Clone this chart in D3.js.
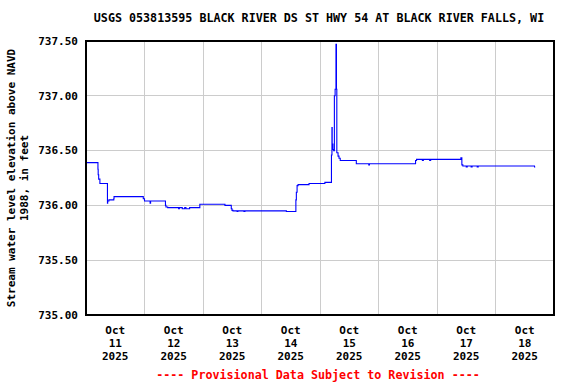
<!DOCTYPE html>
<html>
<head>
<meta charset="utf-8">
<script src="https://cdn.jsdelivr.net/npm/d3@7"></script>
<style>
html,body{margin:0;padding:0;background:#fff;}
text{font-family:"DejaVu Sans Mono","Liberation Mono",monospace;font-weight:bold;font-size:11px;}
</style>
</head>
<body>
<svg id="chart" width="576" height="384"></svg>
<script>
const title = "USGS 053813595 BLACK RIVER DS ST HWY 54 AT BLACK RIVER FALLS, WI";
const yLabelLines = ["Stream water level elevation above NAVD", "1988, in feet"];
const footer = "---- Provisional Data Subject to Revision ----";
const yTicks = [735.0, 735.5, 736.0, 736.5, 737.0, 737.5];
const xDays = ["2025-10-11","2025-10-12","2025-10-13","2025-10-14","2025-10-15","2025-10-16","2025-10-17","2025-10-18"];
const xDomain = ["2025-10-11T00:00","2025-10-19T00:00"];

// series: hours since 2025-10-11 00:00 (UTC) and water level (ft)
const hours = [0, 4.9, 5.0, 5.2, 5.7, 8.8, 8.9, 9.4, 11.4, 11.5, 23.5, 24.0, 26.3, 26.5, 32.6, 32.8,
  33.5, 38.0, 38.3, 39.5, 40.5, 41.0, 42.5, 43.0, 46.7, 57.0, 59.6, 59.9, 60.3, 62.0, 62.3, 64.8, 65.2, 82.2, 86.1, 86.3, 86.6,
  87.0, 88.5, 91.5, 98.0, 100.7, 100.9, 101.0, 101.3, 101.6, 101.9, 102.2, 102.55, 102.75, 102.9, 103.4, 103.8, 104.3,
  105.0, 110.9, 116.0, 116.3, 124.0, 124.3, 135.2, 135.6, 136.0, 138.0, 138.4, 141.0, 141.4, 147.0, 153.8, 154.2, 154.6,
  156.0, 156.4, 158.0, 158.4, 160.5, 160.9, 162.0, 162.5, 184.0, 184.3];
const level = [736.39, 736.33, 736.28, 736.24, 736.20, 736.02, 736.04, 736.05, 736.06, 736.08, 736.06, 736.04, 736.02, 736.04, 736.00, 735.985,
  735.98, 735.97, 735.98, 735.97, 735.98, 735.97, 735.98, 735.98, 736.01, 736.00, 735.97, 735.955, 735.95, 735.945, 735.95, 735.945, 735.95, 735.945, 736.05, 736.12, 736.18,
  736.19, 736.19, 736.20, 736.21, 736.46, 736.71, 736.56, 736.51, 736.50, 737.00, 737.06, 737.47, 737.06, 736.48, 736.45, 736.43, 736.41,
  736.41, 736.38, 736.37, 736.38, 736.38, 736.38, 736.41, 736.42, 736.42, 736.41, 736.42, 736.41, 736.42, 736.42, 736.435, 736.37, 736.36,
  736.35, 736.36, 736.35, 736.36, 736.35, 736.36, 736.36, 736.36, 736.35, 736.35];

const svg = d3.select("#chart");
const margin = {left: 86, right: 22, top: 41, bottom: 69};
const W = 576, H = 384;
const x0 = margin.left, x1 = W - margin.right, y0 = margin.top, y1 = H - margin.bottom;

const parse = d3.utcParse("%Y-%m-%dT%H:%M");
const parseDay = d3.utcParse("%Y-%m-%d");
const start = parse(xDomain[0]);
const x = d3.scaleUtc().domain(xDomain.map(parse)).range([x0, x1]);
const y = d3.scaleLinear().domain([735, 737.5]).range([y1, y0]);

const data = hours.map((h, i) => ({t: new Date(start.getTime() + h * 3600000), v: level[i]}));

// grid
const grid = svg.append("g");
grid.selectAll("line.h").data(yTicks).join("line")
  .attr("x1", x0).attr("x2", x1).attr("y1", d => y(d)).attr("y2", d => y(d))
  .attr("stroke", "#cccccc").attr("stroke-width", 1).attr("shape-rendering", "crispEdges");
const days = d3.utcDay.range(parse(xDomain[0]), parse(xDomain[1]), 1).slice(1);
grid.selectAll("line.v").data(days).join("line")
  .attr("x1", d => x(d)).attr("x2", d => x(d)).attr("y1", y0).attr("y2", y1)
  .attr("stroke", "#cccccc").attr("stroke-width", 1).attr("shape-rendering", "crispEdges");

// line
const line = d3.line().x(d => x(d.t)).y(d => y(d.v)).curve(d3.curveStepAfter);
svg.append("path").datum(data).attr("d", line)
  .attr("fill", "none").attr("stroke", "#0000ff").attr("stroke-width", 1.1);

// frame
svg.append("rect").attr("x", x0).attr("y", y0).attr("width", x1 - x0).attr("height", y1 - y0)
  .attr("fill", "none").attr("stroke", "#000").attr("stroke-width", 2);

// y axis labels
svg.append("g").selectAll("text").data(yTicks).join("text")
  .attr("x", 78).attr("y", d => y(d)).attr("dy", "0.35em").attr("text-anchor", "end")
  .text(d => d3.format(".2f")(d));

// x axis labels
const fmtMon = d3.utcFormat("%b"), fmtDay = d3.utcFormat("%-d"), fmtYear = d3.utcFormat("%Y");
const xl = svg.append("g").selectAll("g").data(xDays.map(parseDay)).join("g")
  .attr("transform", d => `translate(${x(d3.utcHour.offset(d, 12))},0)`);
xl.append("text").attr("y", 334).attr("text-anchor", "middle").text(d => fmtMon(d));
xl.append("text").attr("y", 347).attr("text-anchor", "middle").text(d => fmtDay(d));
xl.append("text").attr("y", 360).attr("text-anchor", "middle").text(d => fmtYear(d));

// title
svg.append("text").attr("x", 319).attr("y", 22).attr("text-anchor", "middle")
  .style("font-size", "11.7px").text(title);

// y label
const yl = svg.append("text").attr("transform", `translate(15,${(y0 + y1) / 2}) rotate(-90)`).attr("text-anchor", "middle");
yl.append("tspan").attr("x", 0).attr("dy", 0).text(yLabelLines[0]);
yl.append("tspan").attr("x", 0).attr("dy", 13).text(yLabelLines[1]);

// footer
svg.append("text").attr("x", 318).attr("y", 379).attr("text-anchor", "middle").attr("fill", "#ff0000")
  .style("font-size", "11.7px").text(footer);
</script>
</body>
</html>
